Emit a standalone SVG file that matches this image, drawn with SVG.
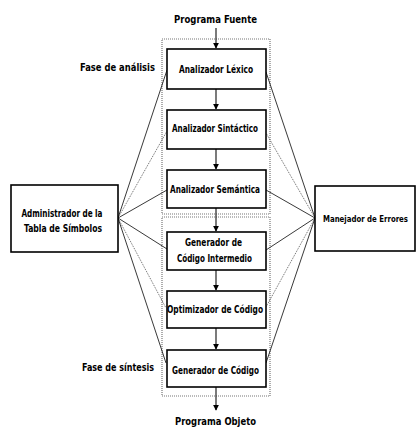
<svg xmlns="http://www.w3.org/2000/svg" width="417" height="428" viewBox="0 0 417 428">
<defs>
<style>
.box{fill:#fff;stroke:#000;stroke-width:1.6}
.phase{fill:none;stroke:#777;stroke-width:1.2;stroke-dasharray:1 1}
.t{font-family:"DejaVu Sans Condensed","DejaVu Sans",sans-serif;font-weight:bold;font-size:10px;fill:#000;text-anchor:middle}
.tl{font-family:"DejaVu Sans Condensed","DejaVu Sans",sans-serif;font-weight:bold;font-size:10px;fill:#000}
.solid{stroke:#222;stroke-width:0.9;fill:none}
.dot{stroke:#555;stroke-width:0.9;fill:none;stroke-dasharray:1 1}
.arr{stroke:#333;stroke-width:1.3;fill:none;marker-end:url(#ah)}
</style>
<marker id="ah" viewBox="0 0 8 8" refX="7" refY="4" markerWidth="6" markerHeight="6" markerUnits="userSpaceOnUse" orient="auto">
<path d="M0,0 L8,4 L0,8 Z" fill="#000"/>
</marker>
</defs>
<rect width="417" height="428" fill="#fff"/>

<g id="phases">
<rect class="phase" x="162" y="39" width="108" height="175"/>
<rect class="phase" x="162" y="217" width="108" height="179"/>
</g>

<g id="connectors">
<line class="arr" x1="216" y1="28" x2="216" y2="48"/>
<line class="arr" x1="216" y1="89" x2="216" y2="109"/>
<line class="arr" x1="216" y1="149" x2="216" y2="169"/>
<line class="arr" x1="216" y1="208" x2="216" y2="231"/>
<line class="arr" x1="216" y1="270" x2="216" y2="290"/>
<line class="arr" x1="216" y1="328" x2="216" y2="349"/>
<line class="arr" x1="216" y1="387" x2="216" y2="410"/>
<line class="solid" x1="118" y1="218" x2="167" y2="70"/>
<line class="dot" x1="118" y1="218" x2="167" y2="131"/>
<line class="solid" x1="118" y1="218" x2="167" y2="190"/>
<line class="solid" x1="118" y1="218" x2="167" y2="249"/>
<line class="dot" x1="118" y1="218" x2="166" y2="308"/>
<line class="solid" x1="118" y1="218" x2="166" y2="363"/>
<line class="solid" x1="315" y1="218" x2="266" y2="72"/>
<line class="dot" x1="315" y1="218" x2="266" y2="133"/>
<line class="solid" x1="315" y1="218" x2="266" y2="190"/>
<line class="solid" x1="315" y1="218" x2="266" y2="250"/>
<line class="dot" x1="315" y1="218" x2="266" y2="307"/>
<line class="solid" x1="315" y1="218" x2="266" y2="363"/>
</g>

<g id="labels">
<text class="t" x="215.5" y="23" textLength="83" lengthAdjust="spacingAndGlyphs">Programa Fuente</text>
<text class="t" x="215.5" y="425" textLength="81" lengthAdjust="spacingAndGlyphs">Programa Objeto</text>
<text class="tl" x="80" y="71" textLength="75" lengthAdjust="spacingAndGlyphs">Fase de análisis</text>
<text class="tl" x="82" y="371" textLength="72" lengthAdjust="spacingAndGlyphs">Fase de síntesis</text>
</g>

<g id="lexico">
<rect class="box" x="167" y="49" width="99" height="40"/>
<text class="t" x="216" y="73" textLength="74" lengthAdjust="spacingAndGlyphs">Analizador Léxico</text>
</g>
<g id="sintactico">
<rect class="box" x="167" y="110" width="99" height="39"/>
<text class="t" x="215" y="132" textLength="86" lengthAdjust="spacingAndGlyphs">Analizador Sintáctico</text>
</g>
<g id="semantica">
<rect class="box" x="167" y="170" width="99" height="38"/>
<text class="t" x="215" y="192.5" textLength="90" lengthAdjust="spacingAndGlyphs">Analizador Semántica</text>
</g>
<g id="intermedio">
<rect class="box" x="167" y="232" width="99" height="38"/>
<text class="t" x="213.5" y="246" textLength="57" lengthAdjust="spacingAndGlyphs">Generador de</text>
<text class="t" x="214.5" y="262" textLength="75" lengthAdjust="spacingAndGlyphs">Código Intermedio</text>
</g>
<g id="optimizador">
<rect class="box" x="167" y="291" width="99" height="37"/>
<text class="t" x="215" y="313" textLength="96" lengthAdjust="spacingAndGlyphs">Optimizador de Código</text>
</g>
<g id="generador">
<rect class="box" x="167" y="350" width="99" height="37"/>
<text class="t" x="215.5" y="373.5" textLength="87" lengthAdjust="spacingAndGlyphs">Generador de Código</text>
</g>
<g id="tabla">
<rect class="box" x="11" y="185" width="107" height="67"/>
<text class="t" x="62" y="216.5" textLength="81" lengthAdjust="spacingAndGlyphs">Administrador de la</text>
<text class="t" x="63" y="231.5" textLength="78" lengthAdjust="spacingAndGlyphs">Tabla de Símbolos</text>
</g>
<g id="errores">
<rect class="box" x="315" y="186" width="100" height="65"/>
<text class="t" x="365.5" y="222" style="font-size:8.6px" textLength="85" lengthAdjust="spacingAndGlyphs">Manejador de Errores</text>
</g>
</svg>
